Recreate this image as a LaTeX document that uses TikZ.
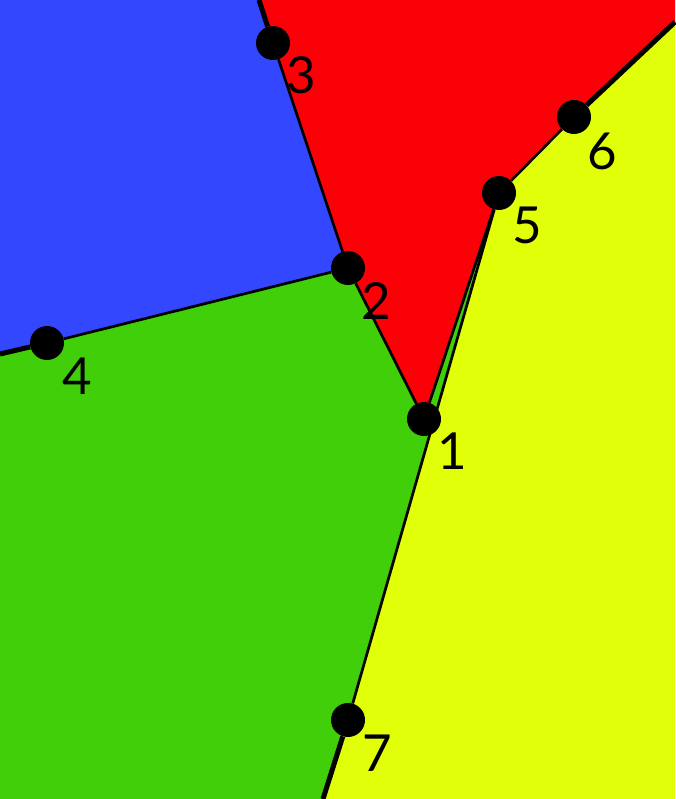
\documentclass[tikz,border=0pt]{standalone}
\usepackage{fontspec}
\setmainfont{Lato}
\usetikzlibrary{positioning,backgrounds}
\definecolor{cellblue}{RGB}{51,71,255}
\definecolor{cellred}{RGB}{252,0,8}
\definecolor{cellgreen}{RGB}{64,207,8}
\definecolor{cellyellow}{RGB}{226,255,10}

\begin{document}
\begin{tikzpicture}[x=1pt, y=-1pt,
    site/.style={circle, fill=black, inner sep=0pt, minimum size=34pt},
    tag/.style={font=\fontsize{51}{51}\selectfont, inner sep=0pt},
    edge/.style={line width=2.7pt},
    ray/.style={line width=5pt}
]
    \useasboundingbox (0,0) rectangle (675,799);

    \node[site] (s1) at (424,419) {};
    \node[site] (s2) at (348,268) {};
    \node[site] (s3) at (273,43) {};
    \node[site] (s4) at (47,343) {};
    \node[site] (s5) at (499,193) {};
    \node[site] (s6) at (574,117) {};
    \node[site] (s7) at (348,720) {};

    \coordinate (e3) at (259,0);
    \coordinate (e4) at (0,354);
    \coordinate (e6) at (675,22);
    \coordinate (e7) at (323,799);

    \begin{scope}[on background layer]
        \fill[cellblue] (0,0) -- (e3) -- (s3.center) -- (s2.center) -- (s4.center) -- (e4) -- cycle;
        \fill[cellred] (e3) -- (675,0) -- (e6) -- (s6.center) -- (s5.center) -- (s1.center) -- (s2.center) -- (s3.center) -- cycle;
        \fill[cellgreen] (e4) -- (s4.center) -- (s2.center) -- (s1.center) -- (s5.center) -- (s7.center) -- (e7) -- (0,799) -- cycle;
        \fill[cellyellow] (e6) -- (675,799) -- (e7) -- (s7.center) -- (s5.center) -- (s6.center) -- cycle;
    \end{scope}

    \draw[edge] (s3) -- (s2);
    \draw[edge] (s2) -- (s4);
    \draw[edge] (s2) -- (s1);
    \draw[edge] (s1) -- (s5);
    \draw[edge] (s7) -- (s5);
    \draw[edge] (s5) -- (s6);

    \draw[ray] (s3) -- (e3);
    \draw[ray] (s4) -- (e4);
    \draw[ray] (s6) -- (e6);
    \draw[ray] (s7) -- (e7);

    \node[tag] (t1) at (452,451) {1};
    \node[tag] (t2) at (376,301) {2};
    \node[tag] (t3) at (301,75) {3};
    \node[tag] (t4) at (77,376) {4};
    \node[tag] (t5) at (527,225) {5};
    \node[tag] (t6) at (602,151) {6};
    \node[tag] (t7) at (377,753) {7};
\end{tikzpicture}
\end{document}
